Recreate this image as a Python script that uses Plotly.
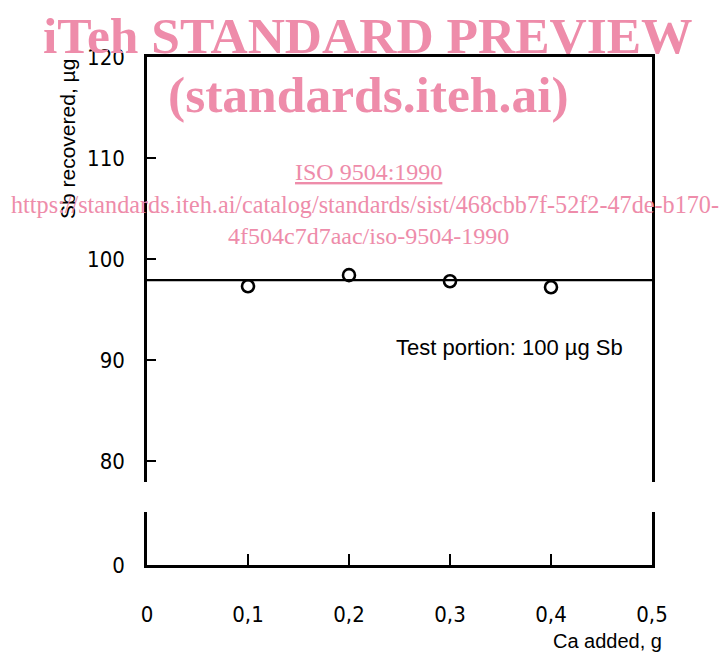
import plotly.graph_objects as go

# Data
ca_added = [0.1, 0.2, 0.3, 0.4]
sb_recovered = [97.3, 98.4, 97.8, 97.2]
line_x = [0.0, 0.5]
line_y = [97.9, 97.9]
x_ticks = [0, 0.1, 0.2, 0.3, 0.4, 0.5]
x_ticktext = ["0", "0,1", "0,2", "0,3", "0,4", "0,5"]
y_upper_ticks = [80, 90, 100, 110, 120]
y_lower_ticks = [0]

OFF = 8  # page body margin
W, H = 728 - OFF, 657 - OFF
# plot area in page pixels
PL, PR, PT, PB = 147, 652, 57, 565
L, T = PL - OFF, PT - OFF
R, B = W - (PR - OFF), H - (PB - OFF)
PH = PB - PT
PW = PR - PL

def py(p):  # page pixel y -> paper
    return (PB - p) / PH

def px(p):
    return (p - PL) / PW

FONT = "DejaVu Sans Condensed, Liberation Sans Narrow, Arial Narrow, sans-serif"
SANS = "Liberation Sans, Arial, sans-serif"
SERIF = "Liberation Serif, serif"
PINK = "rgb(238,140,170)"

fig = go.Figure()
# upper panel
fig.add_trace(go.Scatter(x=line_x, y=line_y, mode="lines",
                         line=dict(color="black", width=2.2),
                         xaxis="x2", yaxis="y2", showlegend=False))
fig.add_trace(go.Scatter(x=ca_added, y=sb_recovered, mode="markers",
                         marker=dict(symbol="circle-open", size=12,
                                     color="black", line=dict(width=2.6)),
                         xaxis="x2", yaxis="y2", showlegend=False))
# lower panel (empty, just axes)
fig.add_trace(go.Scatter(x=[0.0, 0.5], y=[None, None], mode="lines",
                         xaxis="x", yaxis="y", showlegend=False))

upper_bottom = py(482)
lower_top = py(512)

fig.update_layout(
    width=W, height=H,
    margin=dict(l=L, r=R, t=T, b=B, autoexpand=False),
    paper_bgcolor="white", plot_bgcolor="white",
    font=dict(family=FONT, color="black", size=20),
    xaxis=dict(domain=[0, 1], range=[0, 0.5], anchor="y",
               showline=True, linecolor="black", linewidth=2.5,
               showgrid=False, zeroline=False,
               tickvals=x_ticks, ticktext=x_ticktext,
               ticks="inside", ticklen=11, tickwidth=2, tickcolor="black",
               ticklabelstandoff=28,
               tickfont=dict(family=FONT, size=22)),
    yaxis=dict(domain=[0, lower_top], range=[0, (PB - 512) / 10.1], anchor="x",
               showline=True, mirror=True, linecolor="black", linewidth=2.5,
               showgrid=False, zeroline=False,
               tickvals=y_lower_ticks, ticks="", ticklabelstandoff=15,
               tickfont=dict(family=FONT, size=22)),
    xaxis2=dict(domain=[0, 1], range=[0, 0.5], anchor="y2", side="top",
                showline=True, linecolor="black", linewidth=2.5,
                showgrid=False, zeroline=False, showticklabels=False,
                ticks=""),
    yaxis2=dict(domain=[upper_bottom, 1],
                range=[120 - (482 - PT) / 10.1, 120], anchor="x2",
                showline=True, mirror=True, linecolor="black", linewidth=2.5,
                showgrid=False, zeroline=False,
                tickvals=y_upper_ticks, ticks="inside", ticklen=9,
                tickwidth=2, tickcolor="black", ticklabelstandoff=15,
                tickfont=dict(family=FONT, size=22)),
)

def ann(text, x, y, font, xanchor="center", **kw):
    return dict(text=text, x=px(x), y=py(y), xref="paper", yref="paper",
                xanchor=xanchor, yanchor="middle", showarrow=False,
                font=font, **kw)

annotations = [
    ann("Sb recovered, µg", 67, 139, dict(family=SANS, size=21), textangle=-90),
    ann("Ca added, g", 664, 641, dict(family=SANS, size=20), xanchor="right"),
    ann("Test portion: 100 µg Sb", 509, 347, dict(family=SANS, size=22)),
    # watermark
    ann("<b>iTeh STANDARD PREVIEW</b>", 368, 35,
        dict(family=SERIF, size=51.5, color=PINK)),
    ann("<b>(standards.iteh.ai)</b>", 368, 95,
        dict(family=SERIF, size=51.5, color=PINK)),
    ann("<u>ISO 9504:1990</u>", 368, 172, dict(family=SERIF, size=24, color=PINK)),
    ann("https://standards.iteh.ai/catalog/standards/sist/468cbb7f-52f2-47de-b170-",
        365, 204, dict(family=SERIF, size=24.2, color=PINK)),
    ann("4f504c7d7aac/iso-9504-1990", 368, 236, dict(family=SERIF, size=24, color=PINK)),
]
fig.update_layout(annotations=annotations)

fig.write_html("out.html")
